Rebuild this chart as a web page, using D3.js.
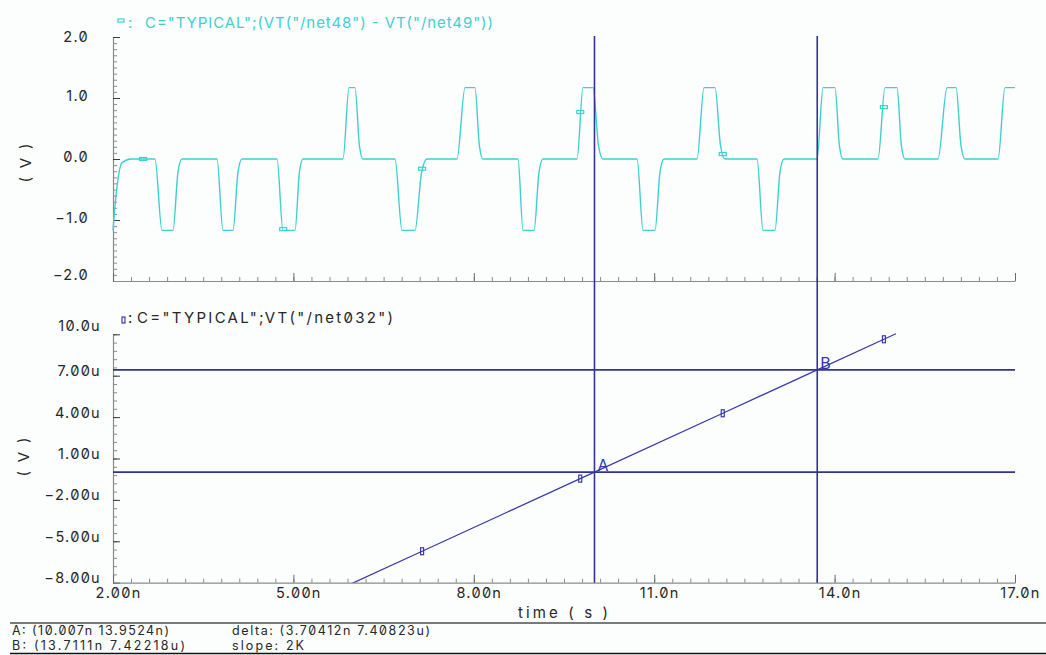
<!DOCTYPE html>
<html><head><meta charset="utf-8">
<script src="https://cdn.jsdelivr.net/npm/d3@7"></script>
<style>
html,body{margin:0;padding:0;background:#fcfefe;}
svg{display:block;}
text{font-family:Inter,"Liberation Sans",Arial,sans-serif;font-feature-settings:"zero" 1;}
</style></head><body><svg id="c" width="1046" height="655"></svg>
<script>
// ---------------- data ----------------
const topLegend = 'C="TYPICAL";(VT("/net48") - VT("/net49"))';
const bottomLegend = 'C="TYPICAL";VT("/net032")';
const xTickValues = [2, 5, 8, 11, 14, 17];
const xTickLabels = ["2.00n", "5.00n", "8.00n", "11.0n", "14.0n", "17.0n"];
const topYTickValues = [-2, -1, 0, 1, 2];
const topYTickLabels = ["−2.0", "−1.0", "0.0", "1.0", "2.0"];
const botYTickValues = [-8, -5, -2, 1, 4, 7, 10];
const botYTickLabels = ["−8.00u", "−5.00u", "−2.00u", "1.00u", "4.00u", "7.00u", "10.0u"];
const xTitle = "time ( s )";
const yTitle = "( V )";

// differential waveform (time in ns, volts)
const diffTime = [2.000,2.050,2.150,2.300,
  2.698,2.815,2.998,3.080,3.148,
  3.730,3.829,3.996,4.078,4.145,
  4.727,4.827,5.027,5.100,5.160,
  5.825,5.925,6.025,6.098,6.158,
  6.690,6.806,7.022,7.132,7.222,
  7.721,7.854,8.020,8.093,8.153,
  8.735,8.819,9.002,9.084,9.151,
  9.717,9.816,9.983,10.074,10.149,
  10.715,10.815,11.014,11.096,11.164,
  11.712,11.829,12.012,12.103,12.178,
  12.710,12.810,13.009,13.091,13.159,
  13.708,13.808,14.007,14.080,14.140,
  14.722,14.839,15.038,15.111,15.171,
  15.720,15.870,16.020,16.102,16.169,
  16.718,16.834,17.000];
const diffVolt = [-1.17,-0.60,-0.06,0.00,
  0.00,-1.17,-1.17,-0.22,0.00,
  0.00,-1.17,-1.17,-0.22,0.00,
  0.00,-1.17,-1.17,-0.22,0.00,
  0.00,1.17,1.17,0.22,0.00,
  0.00,-1.17,-1.17,-0.22,0.00,
  0.00,1.17,1.17,0.22,0.00,
  0.00,-1.17,-1.17,-0.22,0.00,
  0.00,1.17,1.17,0.22,0.00,
  0.00,-1.17,-1.17,-0.22,0.00,
  0.00,1.17,1.17,0.22,0.00,
  0.00,-1.17,-1.17,-0.22,0.00,
  0.00,1.17,1.17,0.22,0.00,
  0.00,1.17,1.17,0.22,0.00,
  0.00,1.17,1.17,0.22,0.00,
  0.00,1.17,1.17];

// ramp waveform (time in ns, microvolts)
const rampTime = [5.95, 7.14, 9.77, 10.007, 12.14, 13.7111, 14.82, 15.02];
const rampVolt = [-8.10, -5.72, -0.46, 0.0139524, 4.28, 7.42218, 9.64, 10.04];

// symbol markers
const markTime = [2.50, 4.83, 7.14, 9.77, 12.14, 14.82];
const markDiff = [0.00, -1.15, -0.16, 0.77, 0.08, 0.85];
const markRamp = [null, null, -5.72, -0.46, 4.28, 9.64];

// cursors
const cursorNames = ["A", "B"];
const cursorTimes = [10.007, 13.7111];
const cursorValues = [0.0139524, 7.42218];
const footerLeft = ["A: (10.007n 13.9524n)", "B: (13.7111n 7.42218u)"];
const footerRight = ["delta: (3.70412n 7.40823u)", "slope: 2K"];

// ---------------- drawing ----------------
const svg = d3.select("#c");
const CYAN = "#3fcfcf", NAVY = "#34348f", BLUE = "#3a3aa8", AX = "#8a8a8a", TXT = "#262626";

svg.append("rect").attr("width", 1046).attr("height", 655).attr("fill", "#fcfefe");

const x = d3.scaleLinear().domain([2, 17]).range([113, 1015]);
const yTop = d3.scaleLinear().domain([-2, 2]).range([281, 37]);
const yBot = d3.scaleLinear().domain([-8, 10]).range([582.7, 334.3]);

const xMinor = d3.range(2, 17.0001, 0.3);
const topMinor = d3.range(-2, 2.0001, 0.1);
const botMinor = d3.range(-8, 10.0001, 0.6);

function styleAxis(g) {
  g.select(".domain").attr("stroke", AX).attr("stroke-width", 1.2);
  g.selectAll(".tick line").attr("stroke", AX);
}

function drawPanel(y, minor, majors, labels, labelPad, labelShift, showX) {
  svg.append("g").attr("transform", "translate(113,0)")
    .call(d3.axisLeft(y).tickValues(minor).tickSizeInner(-4).tickSizeOuter(0).tickFormat(""))
    .call(styleAxis);
  const gy = svg.append("g").attr("transform", "translate(113,0)")
    .call(d3.axisLeft(y).tickValues(majors).tickSizeInner(-7).tickSizeOuter(0)
      .tickPadding(labelPad).tickFormat((d, i) => labels[i]))
    .call(styleAxis);
  gy.select(".domain").remove();
  gy.selectAll(".tick line").attr("stroke", "#3a3a3a");
  gy.selectAll(".tick text").attr("fill", TXT).attr("font-size", 14.5)
    .style("letter-spacing", "1.3px").attr("dy", (d, i) => labelShift(i, majors.length));
  const y0 = y.range()[0];
  svg.append("g").attr("transform", `translate(0,${y0})`)
    .call(d3.axisBottom(x).tickValues(xMinor).tickSizeInner(-4).tickSizeOuter(0).tickFormat(""))
    .call(styleAxis);
  const gx = svg.append("g").attr("transform", `translate(0,${y0})`)
    .call(d3.axisBottom(x).tickValues(xTickValues).tickSizeInner(-8).tickSizeOuter(0)
      .tickPadding(5).tickFormat((d, i) => showX ? xTickLabels[i] : ""))
    .call(styleAxis);
  gx.select(".domain").remove();
  gx.selectAll(".tick line").attr("stroke", "#6a6a6a");
  gx.selectAll(".tick text").attr("fill", TXT).attr("font-size", 14.5)
    .style("letter-spacing", "1.3px").attr("dx", 5);
}

drawPanel(yTop, topMinor, topYTickValues, topYTickLabels, 24,
  (i, n) => (i === 0 ? "-0.1em" : (i === n - 1 ? "0.3em" : "0.2em")), false);
drawPanel(yBot, botMinor, botYTickValues, botYTickLabels, 12,
  (i, n) => (i === n - 1 ? "-0.25em" : "0em"), true);

// axis titles
svg.append("text").attr("transform", "translate(26,163) rotate(-90)")
  .attr("text-anchor", "middle").attr("dy", "0.35em").attr("font-size", 15)
  .attr("fill", TXT).attr("textLength", 39).attr("lengthAdjust", "spacing").text(yTitle);
svg.append("text").attr("transform", "translate(24,457) rotate(-90)")
  .attr("text-anchor", "middle").attr("dy", "0.35em").attr("font-size", 15)
  .attr("fill", TXT).attr("textLength", 39).attr("lengthAdjust", "spacing").text(yTitle);
svg.append("text").attr("x", 518).attr("y", 618).attr("font-size", 15).attr("fill", TXT)
  .attr("textLength", 90).attr("lengthAdjust", "spacing").text(xTitle);

// legends
svg.append("rect").attr("x", 118).attr("y", 19).attr("width", 6).attr("height", 3)
  .attr("fill", "none").attr("stroke", CYAN).attr("stroke-width", 1.2);
svg.append("text").attr("x", 128).attr("y", 28).attr("font-size", 15).attr("fill", CYAN).text(":");
svg.append("text").attr("x", 145).attr("y", 28).attr("font-size", 15).attr("fill", CYAN)
  .attr("textLength", 348).attr("lengthAdjust", "spacing").text(topLegend);
svg.append("rect").attr("x", 122).attr("y", 317).attr("width", 3).attr("height", 6)
  .attr("fill", "none").attr("stroke", BLUE).attr("stroke-width", 1.2);
svg.append("text").attr("x", 128).attr("y", 323).attr("font-size", 15).attr("fill", TXT).text(":");
svg.append("text").attr("x", 137).attr("y", 323).attr("font-size", 15).attr("fill", TXT)
  .attr("textLength", 256).attr("lengthAdjust", "spacing").text(bottomLegend);

// waveform top
const diffData = diffTime.map((t, i) => [t, diffVolt[i]]);
svg.append("path").datum(diffData)
  .attr("d", d3.line().x(d => x(d[0])).y(d => yTop(d[1])).curve(d3.curveMonotoneX))
  .attr("fill", "none").attr("stroke", CYAN).attr("stroke-width", 1.4);

// ramp bottom (clipped to panel)
svg.append("clipPath").attr("id", "clipB").append("rect")
  .attr("x", 113).attr("y", 330).attr("width", 905).attr("height", 252.7);
const rampData = rampTime.map((t, i) => [t, rampVolt[i]]);
svg.append("path").datum(rampData).attr("clip-path", "url(#clipB)")
  .attr("d", d3.line().x(d => x(d[0])).y(d => yBot(d[1])))
  .attr("fill", "none").attr("stroke", BLUE).attr("stroke-width", 1.3);

// markers
markTime.forEach((t, i) => {
  svg.append("rect").attr("x", x(t) - 3.5).attr("y", yTop(markDiff[i]) - 1.5)
    .attr("width", 7).attr("height", 3).attr("fill", "none")
    .attr("stroke", CYAN).attr("stroke-width", 1.2);
  if (markRamp[i] !== null) {
    svg.append("rect").attr("x", x(t) - 1.5).attr("y", yBot(markRamp[i]) - 3.5)
      .attr("width", 3).attr("height", 7).attr("fill", "none")
      .attr("stroke", BLUE).attr("stroke-width", 1.2);
  }
});

// cursors
cursorTimes.forEach((t, i) => {
  svg.append("line").attr("x1", x(t)).attr("x2", x(t)).attr("y1", 36).attr("y2", 582.7)
    .attr("stroke", NAVY).attr("stroke-width", 1.6);
  svg.append("line").attr("x1", 113).attr("x2", 1015)
    .attr("y1", yBot(cursorValues[i])).attr("y2", yBot(cursorValues[i]))
    .attr("stroke", NAVY).attr("stroke-width", 1.6);
  svg.append("text").attr("x", x(t) + 3).attr("y", yBot(cursorValues[i]) - 1)
    .attr("font-size", 16).attr("fill", "#3434b4").text(cursorNames[i]);
});

// footer
svg.append("line").attr("x1", 10).attr("x2", 1046).attr("y1", 623).attr("y2", 623)
  .attr("stroke", "#7a7a7a").attr("stroke-width", 2);
svg.append("line").attr("x1", 10).attr("x2", 1046).attr("y1", 653.5).attr("y2", 653.5)
  .attr("stroke", "#111").attr("stroke-width", 1.5);
const fl = [157, 173], fr = [198, 72];
footerLeft.forEach((s, i) => {
  svg.append("text").attr("x", 12).attr("y", 635 + i * 15).attr("font-size", 12.5)
    .attr("fill", TXT).attr("textLength", fl[i]).attr("lengthAdjust", "spacing").text(s);
});
footerRight.forEach((s, i) => {
  svg.append("text").attr("x", 232).attr("y", 635 + i * 15).attr("font-size", 12.5)
    .attr("fill", TXT).attr("textLength", fr[i]).attr("lengthAdjust", "spacing").text(s);
});
</script></body></html>
